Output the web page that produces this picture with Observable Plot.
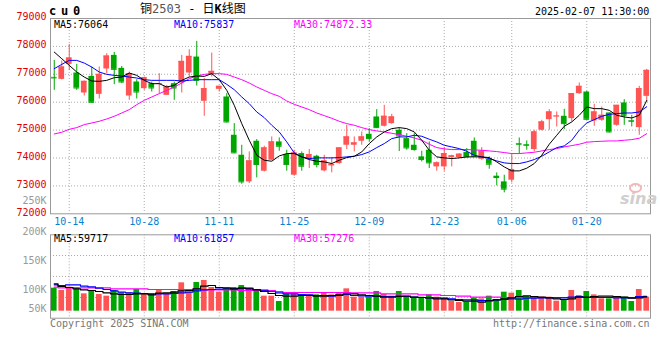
<!DOCTYPE html>
<html><head><meta charset="utf-8">
<script src="https://cdn.jsdelivr.net/npm/d3@7"></script>
<script src="https://cdn.jsdelivr.net/npm/@observablehq/plot@0.6"></script>
<style>
body{margin:0;background:#fff;}
#wrap{position:relative;width:660px;height:360px;overflow:hidden;font-family:"DejaVu Sans Mono",monospace;font-size:10px;background:#fff;}
.t{position:absolute;white-space:pre;line-height:10px;}
#price,#vol{position:absolute;left:0;}
#price{top:0;}
#vol{top:195px;}
</style></head><body>
<div id="wrap">
  <div id="price"></div>
  <div id="vol"></div>
  <div class="t" style="left:49px;top:5px;font-size:12px;line-height:12px;font-weight:bold;letter-spacing:4.8px;">cu0</div>
  <div class="t" style="left:140px;top:3px;font-size:12px;line-height:12px;font-family:'DejaVu Sans Mono','Noto Sans CJK SC',monospace;">铜<span style="color:#555">2503</span> - 日<b>K</b>线图</div>
  <div class="t" style="left:535px;top:7px;">2025-02-07 11:30:00</div>
  <div class="t" style="left:54px;top:19.5px;color:#000;" id="pma5"></div>
  <div class="t" style="left:174px;top:19.5px;color:#0000ff;" id="pma10"></div>
  <div class="t" style="left:294px;top:19.5px;color:#ff00ff;" id="pma30"></div>
  <div class="t" style="left:54px;top:234px;color:#000;" id="vma5"></div>
  <div class="t" style="left:174px;top:234px;color:#0000ff;" id="vma10"></div>
  <div class="t" style="left:294px;top:234px;color:#ff00ff;" id="vma30"></div>
  <div class="t" style="left:50px;top:319px;color:#777;">Copyright 2025 SINA.COM</div>
  <div class="t" style="left:493px;top:319px;color:#777;">http://finance.sina.com.cn</div>
  <div class="t" style="left:620px;top:191px;font-family:'DejaVu Sans',sans-serif;font-size:16px;line-height:16px;font-style:italic;font-weight:bold;color:#cfcfcf;">sina</div>
  <div style="position:absolute;left:629px;top:183px;width:9px;height:6px;border:2px solid #f2b8b8;border-radius:50%;"></div>
</div>
<script>
// ---- data ----
const dates = ["10-10","10-11","10-14","10-15","10-16","10-17","10-18","10-21","10-22","10-23","10-24","10-25","10-28","10-29","10-30","10-31",
"11-01","11-04","11-05","11-06","11-07","11-08","11-11","11-12","11-13","11-14","11-15","11-18","11-19","11-20","11-21","11-22","11-25","11-26","11-27","11-28","11-29",
"12-02","12-03","12-04","12-05","12-06","12-09","12-10","12-11","12-12","12-13","12-16","12-17","12-18","12-19","12-20","12-23","12-24","12-25","12-26","12-27","12-30","12-31",
"01-02","01-03","01-06","01-07","01-08","01-09","01-10","01-13","01-14","01-15","01-16","01-17","01-20","01-21","01-22","01-23","01-24","01-27",
"02-05","02-06","02-07"];
const open  = [76890,76819,77356,77046,76330,76926,76282,77189,77678,77213,76222,76724,76485,76664,76650,76246,76664,76688,77046,77618,
76032,76986,76461,76187,74815,74099,73144,74600,73526,73920,74576,74123,73383,74159,73944,74063,73538,73717,73801,74457,
74457,74600,74850,75471,75137,75232,74994,74695,74457,74040,74278,73681,73681,74015,74015,74195,74600,73956,73956,73347,
73144,73204,74517,74480,74302,74994,75375,75480,75495,75411,76306,76365,75328,75352,75614,75173,75972,75340,75089,76210];
const high  = [77499,77475,78072,77356,76760,77260,77260,77738,77785,77280,77080,76807,76900,76720,77022,76600,76720,77678,77881,78179,
76843,77761,76569,76306,75232,74457,74218,74660,74421,74755,74719,74278,74278,74218,74302,74099,74099,74015,74361,75172,
74755,74934,75053,75733,75888,75566,75077,74874,74874,74242,74576,73860,74373,74099,74159,74337,74719,74373,74040,73467,
73383,74159,74719,74612,74994,75352,75733,75650,75745,76306,76688,76389,75924,75829,75614,75888,76091,75530,76568,77177];
const low   = [76425,76800,77141,76425,76222,75972,76115,77022,76628,76665,76067,76115,76425,76365,76306,76246,76067,76330,76902,76580,
75495,76902,76365,75256,74159,73061,73085,73288,73500,73896,74242,73526,73347,73526,73622,73646,73502,73467,73777,74302,
74218,74457,74576,75053,75113,75208,74231,74278,74242,73860,73622,73526,73526,73681,73980,74015,74040,73920,73598,73001,
72751,73108,74135,74278,74218,74970,74994,75113,75018,75292,76282,75352,75137,75316,74898,75137,75173,75113,74815,76008];
const close = [76870,77260,77582,76509,76747,75996,76998,77654,77177,76724,77022,76365,76879,76509,76670,76545,76509,77463,77642,76783,
76485,77105,76569,75292,74183,73144,73896,73765,74361,74576,74421,73765,74183,73705,74123,73765,73896,73765,74361,74755,
74540,74755,74695,75089,75495,75471,74791,74361,74302,73944,73825,73825,74159,74075,74135,74040,74063,74242,73777,73300,
72882,73586,74493,74455,74934,75292,75650,75505,75232,76306,76568,75387,75650,75531,74934,75888,75531,75316,76485,77141];
const ma5  = [77797,77559,77320,77081,76902,76759,76747,76783,76879,76902,77046,76962,76783,76664,76664,76545,76604,76783,76902,76938,
76926,77022,76807,76425,75888,75232,74636,74099,73920,73884,74075,74159,74159,74040,73944,73884,73860,73801,73920,74015,
74063,74218,74516,74755,74934,75053,75089,75053,74934,74636,74278,74040,74004,73980,74004,74040,74040,74040,74015,73860,
73681,73538,73538,73634,73801,74099,74493,74815,75137,75292,75531,75829,75769,75769,75709,75531,75471,75435,75531,76064];
const ma10 = [77201,77356,77499,77499,77403,77260,77081,76998,76962,76938,76902,76867,76807,76783,76783,76783,76783,76759,76783,76807,
76807,76807,76807,76640,76449,76187,75948,75650,75447,75173,74934,74576,74183,74040,73980,74004,74004,74004,74015,74040,
74063,74123,74218,74373,74516,74695,74755,74755,74815,74779,74672,74576,74457,74397,74337,74242,74099,74040,73980,73896,
73825,73801,73801,73860,73944,74063,74218,74373,74433,74636,74994,75256,75375,75495,75566,75590,75614,75614,75650,75837];
const ma30 = [74862,74922,75029,75089,75196,75256,75316,75399,75495,75614,75733,75912,76067,76187,76306,76425,76545,76688,76843,76938,
76998,77022,77022,76998,76902,76807,76688,76545,76425,76306,76210,76043,75924,75829,75733,75614,75519,75423,75316,75232,
75173,75089,75018,74970,74934,74886,74839,74779,74719,74636,74493,74373,74326,74302,74302,74302,74290,74278,74254,74230,
74195,74159,74159,74183,74206,74254,74302,74337,74397,74445,74493,74564,74588,74600,74612,74612,74636,74660,74707,74872];
const vol = [95900,86200,100100,97300,72300,86200,69500,62600,86200,76500,76500,90400,72300,72300,90400,72300,82000,118200,79200,119500,
127900,98700,79200,95900,98700,107000,95900,90400,62600,62600,40300,72300,72300,69500,68100,68100,75100,68100,76500,93100,
58400,58400,58400,82000,69500,62600,82000,62600,54200,58400,68100,58400,54200,40300,36100,37500,54200,51400,62600,48700,
79200,75100,86200,61200,58400,58400,58400,41700,48700,86200,65300,82000,68100,51400,51400,58400,58400,40300,90400,58400];
const volMa5 = [114000,102900,98700,93100,89000,86200,82000,76500,72300,69500,69500,72300,72300,68100,75100,76500,79200,84800,86200,93100,
104300,107000,98700,97300,93100,95900,93100,89000,82000,73700,65300,62600,62600,65300,65300,62600,62600,65300,68100,72300,
72300,68100,65300,62600,58400,58400,61200,62600,58400,57000,55600,51400,51400,47300,44500,41700,41700,37500,43100,47300,
51400,55600,61200,63900,61200,58400,55600,51400,48700,51400,58400,58400,61200,62600,62600,61200,58400,54200,55600,59717];
const volMa10 = [109800,107000,109800,109800,104300,101500,95900,90400,84800,79200,76500,75100,73700,72300,72300,72300,73700,76500,79200,84800,
89000,90400,91700,93100,93100,95900,95900,90400,87600,82000,76500,72300,72300,69500,68100,65300,65300,62600,65300,69500,
65300,63900,62600,62600,61200,61200,62600,61200,58400,57000,55600,55600,54200,51400,48700,47300,47300,44500,44500,47300,
48700,51400,50000,54200,54200,55600,55600,55600,55600,58400,61200,57000,57000,57000,57000,55600,55600,55600,61200,61857];
const volMa30 = [100100,97300,97300,97300,97300,97300,97300,97300,93100,93100,93100,93100,93100,90400,90400,90400,90400,90400,90400,91700,
89000,89000,89000,89000,89000,86200,86200,86200,86200,86200,82000,77800,77800,77800,77800,77800,77800,77800,77800,77800,
76500,76500,76500,76500,72300,72300,72300,72300,72300,68100,68100,68100,65300,65300,62600,62600,58400,58400,58400,58400,
57000,57000,57000,57000,57000,57000,57000,57000,57000,57000,57000,57000,57000,57000,57000,57000,57000,57000,57000,57276];
const xLabels = ["10-14","10-28","11-11","11-25","12-09","12-23","01-06","01-20"];
const priceTicks = [72000,73000,74000,75000,76000,77000,78000,79000];
const priceGrid = [73000,74000,75000,76000,77000,78000];
const volGrid = [57000,145000,232000];
const volLabels = ["250K","200K","150K","100K","50K"];
const volLabelAt = [460000,332000,209000,88000,11000];
const header = {ma5:"76064", ma10:"75837", ma30:"74872.33", vma5:"59717", vma10:"61857", vma30:"57276"};

// ---- build ----
document.getElementById("pma5").textContent = "MA5:" + header.ma5;
document.getElementById("pma10").textContent = "MA10:" + header.ma10;
document.getElementById("pma30").textContent = "MA30:" + header.ma30;
document.getElementById("vma5").textContent = "MA5:" + header.vma5;
document.getElementById("vma10").textContent = "MA10:" + header.vma10;
document.getElementById("vma30").textContent = "MA30:" + header.vma30;

const rows = dates.map((d, i) => ({date: d, open: open[i], high: high[i], low: low[i], close: close[i],
  ma5: ma5[i], ma10: ma10[i], ma30: ma30[i], vol: vol[i], vma5: volMa5[i], vma10: volMa10[i], vma30: volMa30[i]}));
const RED = "#ff5454", GREEN = "#00a600", GRID = "#aaa", FRAME = "#999";
const isUp = d => d.close >= d.open, isDn = d => d.close < d.open;
const xScale = {type: "band", domain: dates, paddingInner: 0.24, paddingOuter: 0.12, align: 0.5, round: false};
const style = {fontFamily: '"DejaVu Sans Mono", monospace', fontSize: "10px", background: "transparent", overflow: "visible"};
const dots = {stroke: GRID, strokeOpacity: 1, strokeDasharray: "1,2"};

function candles(filter, color) {
  return [
    Plot.ruleX(rows, {filter, x: "date", y1: "low", y2: "high", stroke: color, strokeWidth: 1}),
    Plot.barY(rows, {filter, x: "date", y1: "open", y2: "close", fill: color}),
    Plot.tickY(rows, {filter, x: "date", y: "close", stroke: color, strokeWidth: 1})
  ];
}

const price = Plot.plot({
  width: 660, height: 230, marginLeft: 50, marginRight: 10, marginTop: 18, marginBottom: 16.7,
  style,
  x: {...xScale, axis: null, label: null},
  y: {domain: [72000, 79000], axis: null, label: null},
  marks: [
    Plot.gridY(priceGrid, dots),
    Plot.gridX(xLabels, dots),
    ...candles(isUp, RED),
    ...candles(isDn, GREEN),
    Plot.line(rows, {x: "date", y: "ma30", stroke: "#ff00ff", strokeWidth: 1}),
    Plot.line(rows, {x: "date", y: "ma10", stroke: "#0000ff", strokeWidth: 1}),
    Plot.line(rows, {x: "date", y: "ma5", stroke: "#000", strokeWidth: 1}),
    Plot.frame({stroke: FRAME}),
    Plot.axisY(priceTicks, {tickSize: 0, tickPadding: 4, tickFormat: d => String(d), color: "#e00000", dy: -1.5, label: null}),
    Plot.axisX(xLabels, {tickSize: 0, tickPadding: 4, color: "#0a7fd0", label: null})
  ]
});
document.getElementById("price").appendChild(price);

const volPlot = Plot.plot({
  width: 660, height: 140, marginLeft: 50, marginRight: 10, marginTop: 39.3, marginBottom: 17.3,
  style,
  x: {...xScale, axis: null, label: null},
  y: {domain: [-29200, 318300], axis: null, label: null},
  marks: [
    Plot.gridY(volGrid, dots),
    Plot.gridX(xLabels, dots),
    Plot.barY(rows, {filter: isUp, x: "date", y: "vol", fill: RED}),
    Plot.barY(rows, {filter: isDn, x: "date", y: "vol", fill: GREEN}),
    Plot.line(rows, {x: "date", y: "vma30", stroke: "#ff00ff", strokeWidth: 1.2, curve: "step"}),
    Plot.line(rows, {x: "date", y: "vma10", stroke: "#0000ff", strokeWidth: 1.2, curve: "step"}),
    Plot.line(rows, {x: "date", y: "vma5", stroke: "#000", strokeWidth: 1.2, curve: "step"}),
    Plot.frame({stroke: FRAME}),
    Plot.axisY(volLabelAt, {tickSize: 0, tickPadding: 4, tickFormat: d => volLabels[volLabelAt.indexOf(d)], color: "#999", label: null})
  ]
});
document.getElementById("vol").appendChild(volPlot);
</script>
</body></html>
